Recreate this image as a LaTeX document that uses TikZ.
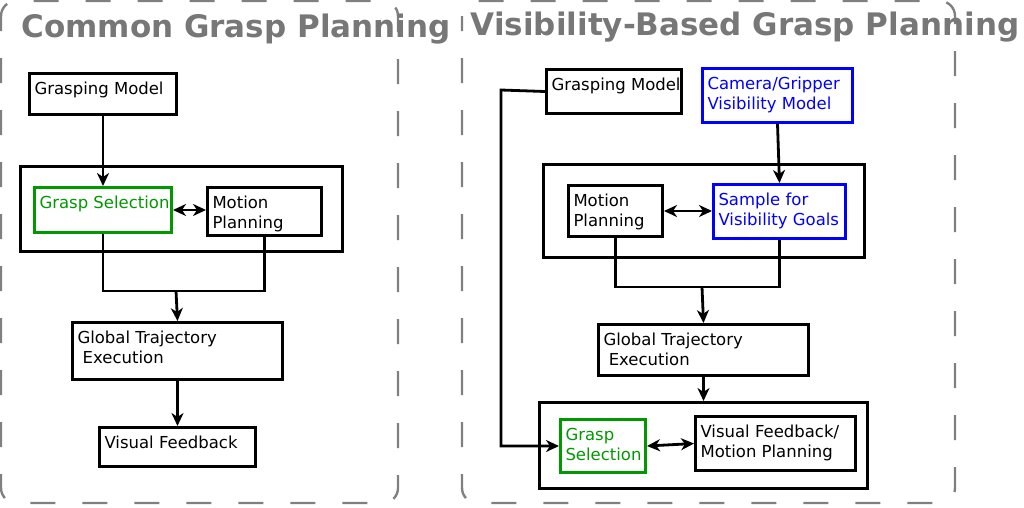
\documentclass[tikz,border=0pt]{standalone}
\usepackage{fontspec}
\setmainfont{DejaVu Sans}
\usetikzlibrary{arrows.meta}
\definecolor{ggreen}{RGB}{0,153,0}
\definecolor{ttgray}{RGB}{119,119,119}
\definecolor{dgray}{RGB}{128,128,128}
\newcommand\bxt[3]{\parbox[t][#2pt][t]{#1pt}{\parindent0pt\leftskip=5pt\rightskip=0pt plus 1fil\rule{0pt}{21pt}#3}}
\begin{document}
\begin{tikzpicture}[x=1pt,y=-1pt,
  blk/.style={draw, line width=3pt, rectangle, inner sep=0pt, anchor=north west,
    font=\fontsize{16.5}{20}\selectfont},
  grn/.style={draw=ggreen, text=ggreen},
  blu/.style={draw=blue, text=blue},
  title/.style={text=ttgray, font=\fontsize{31}{36}\selectfont\bfseries, inner sep=0pt},
  dashbox/.style={draw=dgray, line width=2.4pt, rounded corners=15pt, dash pattern=on 25pt off 27pt, dash phase=10pt},
  conn/.style={line width=2.8pt},
  arr/.style={conn, -{Stealth[length=13pt,width=12pt,inset=4pt]}},
  darr/.style={conn, {Stealth[length=13pt,width=12pt,inset=4pt]}-{Stealth[length=13pt,width=12pt,inset=4pt]}}
]
\useasboundingbox (0,0) rectangle (1024,507);
% containers
\draw[dashbox] (1,1) rectangle (398,503);
\draw[dashbox] (462,1) rectangle (955,503);
\node[title] (t1) at (236,29) {Common Grasp Planning};
\node[title] (t2) at (745,27) {Visibility-Based Grasp Planning};

% ---- left
\node[blk] (ob1) at (19,165) {\bxt{322}{85}{}};
\node[blk] (gm1) at (28,72) {\bxt{147}{41}{\mbox{Grasping Model}}};
\node[blk,grn] (gs1) at (33,186) {\bxt{137}{45}{\mbox{Grasp Selection}}};
\node[blk] (mp1) at (206,186) {\bxt{114}{48}{\mbox{Motion}\\\mbox{Planning}}};
\node[blk] (gt1) at (71,321) {\bxt{210}{57}{\mbox{Global Trajectory}\\\mbox{\ Execution}}};
\node[blk] (vf1) at (98,426) {\bxt{156}{39}{\mbox{Visual Feedback}}};
\coordinate (j1) at (176,291);
\draw[arr] (gm1.south) -- (gs1.north);
\draw[darr] (gs1.east) -- (gs1.east -| mp1.west);
\draw[conn] (gs1.south) |- (j1) -| (mp1.south);
\draw[arr] (j1) -- (gt1.north);
\draw[arr] (gt1.south) -- (vf1.north);

% ---- right
\node[blk] (ob2) at (542,163) {\bxt{321}{93}{}};
\node[blk] (ob3) at (538,401) {\bxt{328}{86}{}};
\node[blk] (gm2) at (545,68) {\bxt{135}{44}{\mbox{Grasping Model}}};
\node[blk,blu] (cam) at (701,67) {\bxt{150}{54}{\mbox{Camera/Gripper}\\\mbox{Visibility Model}}};
\node[blk] (mp2) at (567,184) {\bxt{94}{51}{\mbox{Motion}\\\mbox{Planning}}};
\node[blk,blu] (samp) at (712,183) {\bxt{132}{54}{\mbox{Sample for}\\\mbox{Visibility Goals}}};
\node[blk] (gt2) at (597,323) {\bxt{210}{51}{\mbox{Global Trajectory}\\\mbox{\ Execution}}};
\node[blk,grn] (gs2) at (559,418) {\bxt{85}{53}{\mbox{Grasp}\\\mbox{Selection}}};
\node[blk] (vf2) at (694,415) {\bxt{160}{54}{\mbox{Visual Feedback/}\\\mbox{Motion Planning}}};
\coordinate (j2) at (702,287);
\coordinate (bend) at (501,90);
\draw[arr] (cam.south) -- (samp.north);
\draw[darr] (mp2.east) -- (mp2.east -| samp.west);
\draw[conn] (mp2.south) |- (j2) -| (samp.south);
\draw[arr] (j2) -- (gt2.north);
\draw[arr] (gt2.south) -- (ob3.north);
\draw[darr] (gs2.east) -- (vf2.west);
\draw[arr] (gm2.west) -- (bend) |- (gs2.west);
\end{tikzpicture}
\end{document}
